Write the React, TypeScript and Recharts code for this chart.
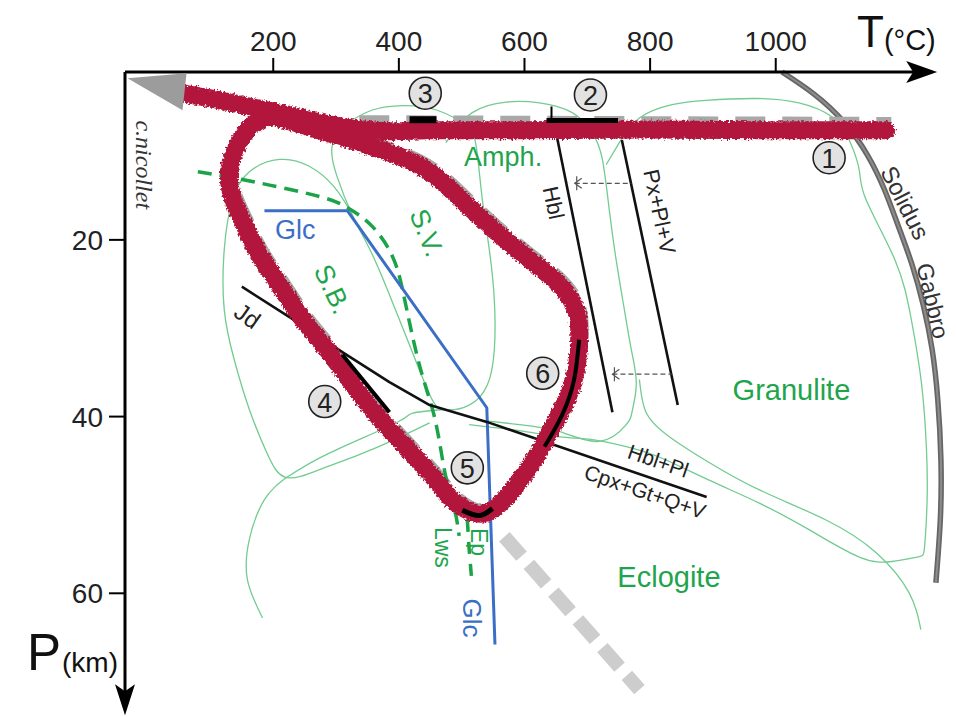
import React from 'react';
import { ComposedChart, Line, Scatter, XAxis, YAxis } from 'recharts';

// ---------- axes ----------
const T_TICKS = [200, 400, 600, 800, 1000];
const P_TICKS = [20, 40, 60];
const T_DOMAIN: [number, number] = [-36, 1287];
const P_DOMAIN: [number, number] = [1, 74];

// ---------- series: [T (°C), P (km)] ----------
const AXIS_T_LINE = [[-36, 1], [1245, 1]];
const AXIS_P_LINE = [[-36, 1], [-36, 72.5]];

const RED_TOP = [[54, 3.4], [115, 4.2], [167, 5.0], [221, 5.8], [274, 6.7], [326, 7.4], [385, 7.7], [449, 7.6], [600, 7.6], [800, 7.5], [1000, 7.6], [1176, 7.6]];
const RED_LOOP = [[194, 5.9], [274, 7.6], [380, 10.0], [449, 12.3], [508, 16.0], [560, 19.4], [613, 22.5], [656, 25.1], [683, 28.1], [687, 31.3], [683, 34.4], [667, 38.1], [640, 41.8], [619, 44.5], [581, 48.3], [552, 50.4], [531, 51.0], [509, 50.6], [482, 49.2], [449, 46.4], [396, 42.3], [342, 37.8], [290, 32.8], [247, 29.0], [210, 25.1], [178, 21.7], [154, 18.3], [135, 15.2], [130, 12.1], [142, 9.5], [162, 7.3], [194, 5.9]];

const GRAY_TOP = [[337, 6.4], [1184, 6.6]];
const GRAY_LOOP = [[202, 5.4], [282, 7.1], [388, 9.5], [457, 11.8], [516, 15.5], [568, 18.9], [621, 22.0], [664, 24.6], [691, 27.6], [695, 30.8], [691, 33.9], [675, 37.6], [648, 41.3], [627, 44.0], [589, 47.8], [560, 49.9], [539, 50.5], [517, 50.1], [490, 48.7], [457, 45.9], [404, 41.8], [350, 37.3], [298, 32.3], [255, 28.5], [218, 24.6], [186, 21.2], [162, 17.8], [143, 14.7], [138, 11.6], [150, 9.0], [170, 6.8], [202, 5.4]];
const GRAY_SLAB = [[568, 53.6], [783, 70.9]];
const GRAY_ARROW = [[-32, 1.7]];

const SOLIDUS = [[1010, 1.0], [1061, 3.5], [1109, 6.7], [1146, 10.4], [1173, 14.3], [1196, 18.6], [1217, 22.8], [1235, 27.4], [1249, 32.4], [1258, 38.1], [1263, 44.9], [1262, 51.7], [1255, 58.8]];

const GREEN_A = [[317, 6.8], [358, 5.3], [406, 4.8], [460, 5.3], [508, 7.2], [524, 9.8], [533, 15.5], [544, 21.1], [552, 26.8], [552, 32.4], [541, 36.4], [512, 38.7], [472, 39.2], [449, 37.5], [417, 31.9], [385, 26.2], [356, 21.4], [326, 17.2], [301, 12.7], [294, 9.3], [317, 6.8]];
const GREEN_B = [[449, 40.7], [393, 42.6], [337, 44.3], [274, 46.0], [221, 46.9], [191, 44.3], [162, 39.2], [138, 33.6], [122, 27.9], [122, 21.1], [135, 15.5], [162, 12.3], [210, 10.9], [258, 11.7], [297, 14.0], [324, 16.9]];
const GREEN_B2 = [[221, 46.9], [290, 44.1], [396, 40.7], [422, 39.6], [472, 39.2]];
const GREEN_C = [[221, 46.9], [186, 49.4], [162, 53.9], [159, 58.5], [183, 62.8]];
const GREEN_E = [[475, 9.0], [517, 5.6], [571, 4.4], [624, 4.5], [676, 5.6], [708, 7.9], [724, 10.9], [735, 16.6], [746, 22.3], [759, 27.9], [770, 32.4], [778, 36.2], [772, 39.2], [762, 40.9], [719, 42.8], [656, 41.7], [592, 40.9], [528, 40.4]];
const GREEN_F = [[783, 35.8], [794, 39.6], [831, 42.3], [894, 45.2], [974, 48.3], [1080, 51.7], [1160, 55.4], [1212, 59.9], [1231, 64.1]];
const GREEN_G = [[730, 11.5], [751, 9.0], [783, 6.2], [835, 4.7], [889, 4.2], [969, 4.0], [1037, 4.5], [1090, 6.1], [1117, 8.7], [1133, 12.1], [1144, 15.5], [1190, 22.3], [1215, 28.7], [1232, 36.2], [1240, 43.7], [1241, 49.4], [1237, 54.7], [1226, 55.9], [1185, 56.4], [1133, 55.9], [1053, 52.8], [974, 49.8], [894, 47.2], [815, 44.6], [762, 43.4], [708, 42.6], [656, 42.3], [592, 41.6], [512, 40.9]];

const LWS = [[80, 12.3], [131, 12.9], [194, 13.8], [274, 15.1], [317, 16.3], [358, 18.5], [390, 21.9], [406, 25.7], [422, 31.0], [438, 35.5], [454, 39.3], [465, 43.0], [476, 47.2], [489, 50.6], [496, 53.5]];
const EP = [[509, 51.7], [512, 55.1], [516, 58.5]];

const GLC = [[186, 16.7], [318, 16.7], [540, 39.0], [553, 65.8]];

const HBL = [[651, 8.1], [740, 39.5]];
const PXPLV = [[755, 8.7], [844, 38.7]];
const JD = [[150, 25.3], [234, 29.1], [310, 32.7], [385, 36.1], [449, 38.7], [540, 40.6], [890, 49.1]];
const DASH_ARROW_1 = [[680, 13.6], [770, 13.6]];
const DASH_ARROW_2 = [[740, 35.2], [834, 35.2]];
const DASH_HEADS = [[680, 13.6], [740, 35.2]];

const STAGE_2 = [[635, 6.5], [749, 6.5]];
const STAGE_2_TICK = [[643, 4.9], [643, 6.5]];
const STAGE_3 = [[417, 6.4], [460, 6.4]];
const STAGE_4 = [[310, 33.0], [385, 39.5]];
const STAGE_5 = [[501, 50.6], [528, 51.2], [549, 50.4]];
const STAGE_6 = [[687, 31.3], [679, 35.8], [660, 39.8], [632, 43.4]];

const AXIS_HEADS = [{ id: 'tx', t: 1257, p: 1 }, { id: 'py', t: -36, p: 73.8 }];

const STAGES = [
  { n: '1', t: 1085, p: 10.7 },
  { n: '2', t: 705, p: 3.6 },
  { n: '3', t: 442, p: 3.4 },
  { n: '4', t: 282, p: 38.3 },
  { n: '5', t: 509, p: 45.8 },
  { n: '6', t: 629, p: 35.1 },
];

const LABELS = [
  { id: 'amph', text: 'Amph.', t: 566, p: 10.6 },
  { id: 'sv', text: 'S.V.', t: 444, p: 19.2 },
  { id: 'sb', text: 'S.B.', t: 294, p: 25.6 },
  { id: 'gran', text: 'Granulite', t: 1025, p: 37.0 },
  { id: 'eclo', text: 'Eclogite', t: 830, p: 58.1 },
  { id: 'glc1', text: 'Glc', t: 235, p: 18.9 },
  { id: 'glc2', text: 'Glc', t: 517, p: 62.8 },
  { id: 'lws', text: 'Lws', t: 471, p: 54.8 },
  { id: 'ep', text: 'Ep', t: 527, p: 54.2 },
  { id: 'hbl', text: 'Hbl', t: 646, p: 15.8 },
  { id: 'px', text: 'Px+Pl+V', t: 815, p: 16.8 },
  { id: 'jd', text: 'Jd', t: 159, p: 28.6 },
  { id: 'hblpl', text: 'Hbl+Pl', t: 813, p: 45.0 },
  { id: 'cpx', text: 'Cpx+Gt+Q+V', t: 792, p: 48.5 },
  { id: 'sol1', text: 'Solidus', t: 1206, p: 15.8 },
  { id: 'sol2', text: 'Gabbro', t: 1250, p: 26.9 },
  { id: 'nic', text: 'c.nicollet', t: -6, p: 11.5 },
];

// ---------- styles ----------
const SANS = '"Liberation Sans", Arial, Helvetica, sans-serif';
const GREEN_TXT = '#1ea54c';
const GREEN_LINE = '#72cb91';
const LABEL_STYLE: Record<string, { size: number; color: string; angle?: number; italic?: boolean; serif?: boolean }> = {
  amph: { size: 27, color: GREEN_TXT },
  sv: { size: 27, color: GREEN_TXT, angle: 68 },
  sb: { size: 27, color: GREEN_TXT, angle: 65 },
  gran: { size: 29, color: GREEN_TXT },
  eclo: { size: 29, color: GREEN_TXT },
  glc1: { size: 27, color: '#3b6fc6' },
  glc2: { size: 26, color: '#3b6fc6', angle: 90 },
  lws: { size: 23, color: GREEN_TXT, angle: 90 },
  ep: { size: 23, color: GREEN_TXT, angle: 90 },
  hbl: { size: 22, color: '#222', angle: 78 },
  px: { size: 22, color: '#222', angle: 78 },
  jd: { size: 24, color: '#222', angle: 35 },
  hblpl: { size: 21, color: '#222', angle: 19 },
  cpx: { size: 21, color: '#222', angle: 19 },
  sol1: { size: 24, color: '#333', angle: 63 },
  sol2: { size: 23, color: '#333', angle: 77 },
  nic: { size: 24, color: '#333', angle: 90, italic: true, serif: true },
};

const toPts = (a: number[][]) => a.map(([t, p]) => ({ t, p }));

const series = (
  key: string,
  arr: number[][],
  stroke: string,
  width: number,
  opts: { type?: any; dash?: string; cap?: string; filter?: string } = {}
) => (
  <Line
    key={key}
    data={toPts(arr)}
    dataKey="p"
    stroke={stroke}
    strokeWidth={width}
    strokeDasharray={opts.dash}
    strokeLinecap={(opts.cap as any) || 'butt'}
    strokeLinejoin="round"
    filter={opts.filter}
    type={opts.type || 'linear'}
    dot={false}
    activeDot={false}
    legendType="none"
    isAnimationActive={false}
  />
);

const renderLabel = (props: any) => {
  const { cx, cy, payload } = props;
  const s = LABEL_STYLE[payload.id];
  return (
    <text
      x={cx}
      y={cy}
      transform={s.angle ? `rotate(${s.angle} ${cx} ${cy})` : undefined}
      textAnchor="middle"
      dominantBaseline="central"
      fontSize={s.size}
      fill={s.color}
      fontStyle={s.italic ? 'italic' : 'normal'}
      fontFamily={s.serif ? '"Liberation Serif", "DejaVu Serif", serif' : SANS}
    >
      {payload.text}
    </text>
  );
};

const renderStage = (props: any) => {
  const { cx, cy, payload } = props;
  return (
    <g>
      <circle cx={cx} cy={cy} r={16} fill="#e2e2e2" stroke="#222" strokeWidth={1.6} />
      <text x={cx} y={cy + 1} textAnchor="middle" dominantBaseline="central" fontSize={27} fill="#222" fontFamily={SANS}>
        {payload.n}
      </text>
    </g>
  );
};

const renderAxisHead = (props: any) => {
  const { cx, cy, payload } = props;
  if (payload.id === 'tx') {
    return <polygon points={`${cx},${cy} ${cx - 31},${cy - 11} ${cx - 24},${cy} ${cx - 31},${cy + 11}`} fill="#000" />;
  }
  return <polygon points={`${cx},${cy} ${cx - 10},${cy - 31} ${cx},${cy - 24} ${cx + 10},${cy - 31}`} fill="#000" />;
};

const renderGrayArrow = (props: any) => {
  const { cx, cy } = props;
  return <polygon points={`${cx},${cy} ${cx + 59},${cy - 5} ${cx + 55},${cy + 32}`} fill="#9c9c9c" />;
};

const renderDashHead = (props: any) => {
  const { cx, cy } = props;
  return <path d={`M${cx + 7},${cy - 5} L${cx},${cy} L${cx + 7},${cy + 5} M${cx + 2},${cy - 7} L${cx + 2},${cy + 7}`} stroke="#555" strokeWidth={1.2} fill="none" />;
};

const TTitle = (props: any) => {
  const vb = props.viewBox || { x: 125, y: 42, width: 831, height: 30 };
  const x = vb.x + vb.width - 99;
  const y = vb.y + 5;
  return (
    <text x={x} y={y} fontFamily={SANS} fill="#111">
      <tspan fontSize={44}>T</tspan>
      <tspan fontSize={29} dx={0} dy={3}>(°C)</tspan>
    </text>
  );
};

const PTitle = (props: any) => {
  const vb = props.viewBox || { x: 65, y: 72, width: 60, height: 645 };
  const x = vb.x - 38;
  const y = vb.y + vb.height - 47;
  return (
    <text x={x} y={y} fontFamily={SANS} fill="#111">
      <tspan fontSize={51}>P</tspan>
      <tspan fontSize={28} dx={1} dy={2}>(km)</tspan>
    </text>
  );
};

export default function App() {
  return (
    <div style={{ position: 'absolute', left: 0, top: 0, width: 956, height: 717, background: '#fff' }}>
      <ComposedChart width={956} height={717} margin={{ top: 42, right: 0, bottom: 0, left: 65 }}>
        <defs>
          <filter id="rough" filterUnits="userSpaceOnUse" x={0} y={0} width={956} height={717}>
            <feTurbulence type="fractalNoise" baseFrequency="0.45" numOctaves={2} seed={4} result="noise" />
            <feDisplacementMap in="SourceGraphic" in2="noise" scale={6} xChannelSelector="R" yChannelSelector="G" />
          </filter>
        </defs>
        <XAxis
          xAxisId={0}
          type="number"
          dataKey="t"
          orientation="top"
          domain={T_DOMAIN}
          ticks={T_TICKS}
          height={30}
          axisLine={false}
          tickLine={{ stroke: '#000', strokeWidth: 2 }}
          tickSize={14}
          tickMargin={7}
          tick={{ fontSize: 28, fill: '#222', fontFamily: SANS }}
          label={<TTitle />}
        />
        <YAxis
          yAxisId={0}
          type="number"
          dataKey="p"
          reversed
          domain={P_DOMAIN}
          ticks={P_TICKS}
          width={60}
          axisLine={false}
          tickLine={{ stroke: '#000', strokeWidth: 2 }}
          tickSize={16}
          tickMargin={6}
          tick={{ fontSize: 28, fill: '#222', fontFamily: SANS }}
          label={<PTitle />}
        />

        {series('gA', GREEN_A, GREEN_LINE, 1.3, { type: 'natural' })}
        {series('gB', GREEN_B, GREEN_LINE, 1.3, { type: 'natural' })}
        {series('gB2', GREEN_B2, GREEN_LINE, 1.3, { type: 'natural' })}
        {series('gC', GREEN_C, GREEN_LINE, 1.3, { type: 'natural' })}
        {series('gE', GREEN_E, GREEN_LINE, 1.3, { type: 'natural' })}
        {series('gF', GREEN_F, GREEN_LINE, 1.3, { type: 'natural' })}
        {series('gG', GREEN_G, GREEN_LINE, 1.3, { type: 'natural' })}

        {series('solidus', SOLIDUS, '#666', 5.5, { type: 'natural' })}
        {series('solidus2', SOLIDUS, '#8c8c8c', 2, { type: 'natural' })}

        {series('slab', GRAY_SLAB, '#cdcdcd', 14, { dash: '26 11' })}
        {series('grayTop', GRAY_TOP, '#a8a8a8', 9, { dash: '30 17' })}
        {series('grayLoop', GRAY_LOOP, '#a8a8a8', 9, { type: 'natural', dash: '30 17' })}

        {series('lws', LWS, '#1aa347', 3.5, { type: 'natural', dash: '14 8' })}
        {series('ep', EP, '#1aa347', 3.5, { dash: '12 10' })}
        {series('glc', GLC, '#3b6fc6', 3)}

        {series('hbl', HBL, '#111', 2.6)}
        {series('px', PXPLV, '#111', 2.6)}
        {series('jd', JD, '#111', 2.6)}
        {series('da1', DASH_ARROW_1, '#555', 1.2, { dash: '5 3' })}
        {series('da2', DASH_ARROW_2, '#555', 1.2, { dash: '5 3' })}

        {series('redLoop', RED_LOOP, '#b3193c', 18, { type: 'natural', cap: 'round', filter: 'url(#rough)' })}
        {series('redTop', RED_TOP, '#b3193c', 18, { type: 'natural', cap: 'round', filter: 'url(#rough)' })}

        {series('s2', STAGE_2, '#000', 5)}
        {series('s2t', STAGE_2_TICK, '#000', 2)}
        {series('s3', STAGE_3, '#000', 7)}
        {series('s4', STAGE_4, '#000', 4)}
        {series('s5', STAGE_5, '#000', 5, { type: 'natural' })}
        {series('s6', STAGE_6, '#000', 4, { type: 'natural' })}

        {series('axT', AXIS_T_LINE, '#000', 3)}
        {series('axP', AXIS_P_LINE, '#000', 3)}

        <Scatter data={toPts(GRAY_ARROW)} dataKey="p" shape={renderGrayArrow} isAnimationActive={false} legendType="none" />
        <Scatter data={toPts(DASH_HEADS)} dataKey="p" shape={renderDashHead} isAnimationActive={false} legendType="none" />
        <Scatter data={AXIS_HEADS} dataKey="p" shape={renderAxisHead} isAnimationActive={false} legendType="none" />
        <Scatter data={STAGES} dataKey="p" shape={renderStage} isAnimationActive={false} legendType="none" />
        <Scatter data={LABELS} dataKey="p" shape={renderLabel} isAnimationActive={false} legendType="none" />
      </ComposedChart>
    </div>
  );
}
